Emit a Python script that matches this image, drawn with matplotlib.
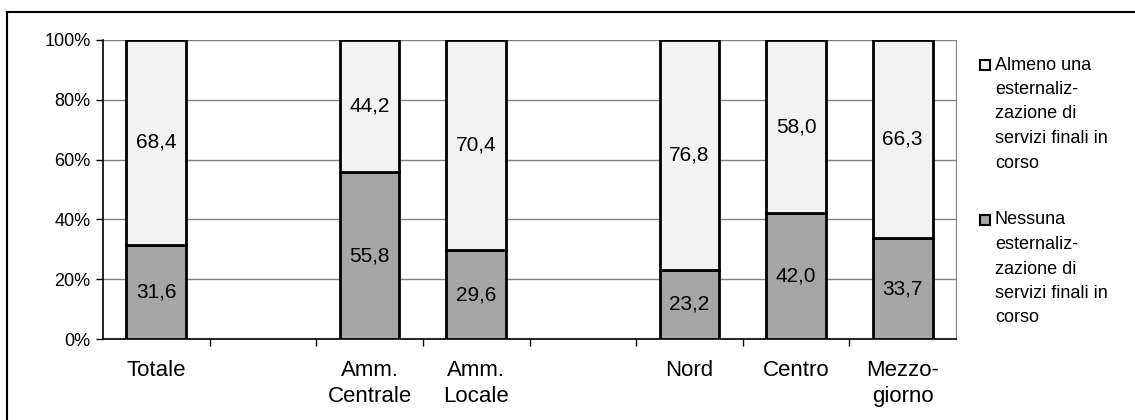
import numpy as np
import matplotlib.pyplot as plt
from matplotlib.patches import Rectangle
from matplotlib.lines import Line2D

plt.rcParams['font.family'] = ['Liberation Sans', 'DejaVu Sans']

# categorie (due posizioni vuote fanno da separatore fra i gruppi)
categorie = ["Totale", "", "Amm.\nCentrale", "Amm.\nLocale", "", "Nord", "Centro", "Mezzo-\ngiorno"]
nessuna = [31.6, None, 55.8, 29.6, None, 23.2, 42.0, 33.7]
almeno = [68.4, None, 44.2, 70.4, None, 76.8, 58.0, 66.3]
legenda = ["Almeno una\nesternaliz-\nzazione di\nservizi finali in\ncorso",
           "Nessuna\nesternaliz-\nzazione di\nservizi finali in\ncorso"]

col_basso = "#a6a6a6"
col_alto = "#f2f2f2"

W, H = 1135, 420
fig = plt.figure(figsize=(W / 100, H / 100), dpi=100)
ax = fig.add_axes([103 / W, 1 - 339 / H, (956 - 103) / W, (339 - 40) / H])

x = np.arange(len(categorie))
pieni = [i for i in x if nessuna[i] is not None]
b1 = np.array([nessuna[i] for i in pieni])
b2 = np.array([almeno[i] for i in pieni])

ax.bar(pieni, b1, width=0.56, color=col_basso, edgecolor="black", linewidth=2, zorder=3)
ax.bar(pieni, b2, bottom=b1, width=0.56, color=col_alto, edgecolor="black", linewidth=2, zorder=3)

# etichette dei valori al centro di ogni segmento
for i, v1, v2 in zip(pieni, b1, b2):
    ax.text(i, v1 / 2, ("%.1f" % v1).replace(".", ","), ha="center", va="center", fontsize=15, zorder=4)
    ax.text(i, v1 + v2 / 2, ("%.1f" % v2).replace(".", ","), ha="center", va="center", fontsize=15, zorder=4)

ax.set_xlim(-0.5, len(categorie) - 0.5)
ax.set_ylim(0, 100)
ax.set_yticks(np.arange(0, 101, 20))
ax.set_yticklabels(["%d%%" % v for v in range(0, 101, 20)], fontsize=13)
ax.yaxis.grid(True, color="#808080", linewidth=1, zorder=0)

ax.set_xticks(np.arange(0.5, len(categorie) - 0.5, 1))
ax.set_xticklabels([])
ax.set_xticks(x, minor=True)
ax.set_xticklabels(categorie, minor=True, fontsize=16, linespacing=1.3)
ax.tick_params(axis="x", which="major", length=5, width=1, color="black")
ax.tick_params(axis="x", which="minor", length=0, pad=15)
ax.tick_params(axis="y", length=5, width=1, pad=4)

ax.spines["top"].set_visible(False)
ax.spines["right"].set_color("#808080")
ax.spines["left"].set_linewidth(1.2)
ax.spines["bottom"].set_linewidth(1.2)

# legenda disegnata a mano
for k, (testo, col) in enumerate(zip(legenda, [col_alto, col_basso])):
    y0 = 65 + k * 155
    fig.patches.append(Rectangle((980 / W, 1 - (y0 + 5) / H), 10 / W, 10 / H,
                                 transform=fig.transFigure, facecolor=col,
                                 edgecolor="black", linewidth=1.5))
    for j, riga in enumerate(testo.split("\n")):
        fig.text(995 / W, 1 - (y0 + j * 24.5) / H, riga, fontsize=13, va="center", ha="left")

# cornice esterna
fig.add_artist(Line2D([7 / W, 7 / W], [0, 1 - 12 / H], transform=fig.transFigure, color="black", linewidth=1.5))
fig.add_artist(Line2D([7 / W, 1], [1 - 12 / H, 1 - 12 / H], transform=fig.transFigure, color="black", linewidth=1.5))

fig.savefig("out.png", dpi=100)
